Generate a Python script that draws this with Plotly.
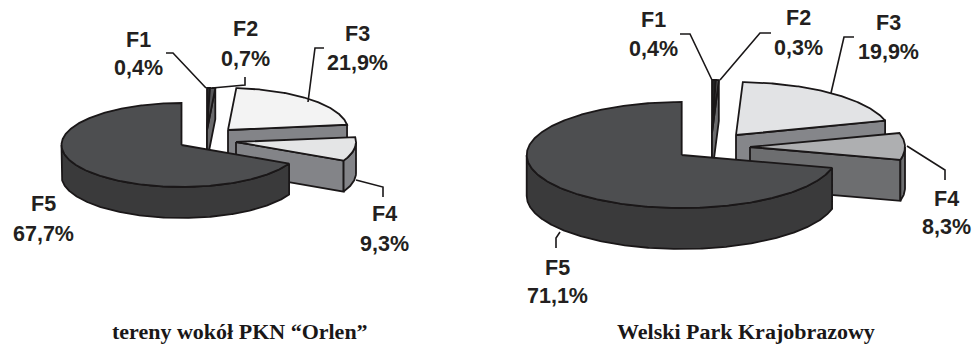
import numpy as np
import plotly.graph_objects as go

# ---------- data ----------
categories = ["F1", "F2", "F3", "F4", "F5"]
orlen_values = [0.4, 0.7, 21.9, 9.3, 67.7]
welski_values = [0.4, 0.3, 19.9, 8.3, 71.1]
orlen_title = "tereny wokół PKN “Orlen”"
welski_title = "Welski Park Krajobrazowy"

# ---------- layout / style (pixel space) ----------
W, H = 973, 345
DRAW_ORDER = [2, 0, 1, 3, 4]
INK = "#1a1718"
FONT = "Liberation Sans, Arial, sans-serif"
SERIF = "Liberation Serif, Times New Roman, serif"

PIES = [
    dict(values=orlen_values, title=orlen_title, title_xy=(240, 331),
         rx=120, ry=42, depth=31,
         apex=[(207, 130), (207, 130), (228, 130), (236, 142), (181.5, 145)],
         top=["#2b2b2c", "#58585a", "#f3f3f3", "#e4e5e6", "#4d4e50"],
         side=["#2b2b2c", "#6a6a6c", "#838488", "#838488", "#3a3a3b"],
         labels=[(138, 40, 68), (245, 29, 59), (357, 34, 63), (384, 214, 244), (43, 204, 234)],
         leaders=[[(166, 53), (173, 53), (206, 88)],
                  [(245, 77), (245, 85), (212, 88)],
                  [(324, 48), (315, 48), (308, 102)],
                  [(356, 180), (383, 187), (383, 197)]]),
    dict(values=welski_values, title=welski_title, title_xy=(746, 331),
         rx=155, ry=53, depth=41,
         apex=[(712, 133), (712, 133), (736, 135), (750, 147), (681.7, 155)],
         top=["#232324", "#58585a", "#e2e3e5", "#aeafb1", "#4d4e50"],
         side=["#232324", "#6a6a6c", "#85868a", "#6d6e70", "#3a3a3b"],
         labels=[(653, 20, 49), (798, 18, 48), (888, 23, 52), (946, 199, 227), (557, 268, 296)],
         leaders=[[(680, 34), (690, 34), (712, 80)],
                  [(771, 33), (760, 33), (720, 80)],
                  [(854, 37), (844, 37), (831, 93)],
                  [(907, 146), (945, 170), (945, 180)],
                  [(560, 232), (556, 238), (556, 248)]]),
]


def rim(apex, rx, ry, a, b):
    """Points on the slice rim between clockwise-from-north angles a and b (degrees)."""
    t = np.radians(np.linspace(a, b, max(int(abs(b - a) * 2), 2)))
    return apex[0] + rx * np.sin(t), apex[1] - ry * np.cos(t)


fig = go.Figure()


def poly(x, y, color, name):
    fig.add_trace(go.Scatter(
        x=list(x), y=list(y), mode="lines", fill="toself", fillcolor=color,
        line=dict(color=INK, width=1.8), name=name, hoverinfo="name", showlegend=False))


annotations = []
for pie in PIES:
    shares = np.array(pie["values"], dtype=float)
    ends = np.cumsum(shares) / shares.sum() * 360
    starts = np.concatenate(([0], ends[:-1]))
    rx, ry, d = pie["rx"], pie["ry"], pie["depth"]

    for i in DRAW_ORDER:
        a0, a1, ax = starts[i], ends[i], pie["apex"][i]
        name = f"{categories[i]} {pie['values'][i]}%"
        # cut face at the clockwise end of the slice
        if np.sin(np.radians(a1)) > 1e-6:
            ex, ey = rim(ax, rx, ry, a1, a1)
            poly([ax[0], ex[0], ex[0], ax[0], ax[0]],
                 [ax[1], ey[0], ey[0] + d, ax[1] + d, ax[1]], pie["side"][i], name)
        # outer wall, only the part that faces the viewer
        lo, hi = max(a0, 90), min(a1, 270)
        if hi > lo:
            ox, oy = rim(ax, rx, ry, lo, hi)
            poly(np.r_[ox, ox[::-1], ox[0]], np.r_[oy, oy[::-1] + d, oy[0]], pie["side"][i], name)
        # top surface
        tx, ty = rim(ax, rx, ry, a0, a1)
        poly(np.r_[ax[0], tx, ax[0]], np.r_[ax[1], ty, ax[1]], pie["top"][i], name)

    for leader in pie["leaders"]:
        fig.add_trace(go.Scatter(
            x=[p[0] for p in leader], y=[p[1] for p in leader], mode="lines",
            line=dict(color=INK, width=1.6), hoverinfo="skip", showlegend=False))

    for cat, val, (lx, y1, y2) in zip(categories, pie["values"], pie["labels"]):
        for txt, yy in ((cat, y1), (f"{val:.1f}%".replace(".", ","), y2)):
            annotations.append(dict(
                x=lx, y=yy, text=f"<b>{txt}</b>", showarrow=False,
                font=dict(family=FONT, size=21.5, color="#231f20")))

    annotations.append(dict(
        x=pie["title_xy"][0], y=pie["title_xy"][1], text=f"<b>{pie['title']}</b>",
        showarrow=False, font=dict(family=SERIF, size=22, color="#1a1718")))

fig.update_layout(
    width=W, height=H, margin=dict(l=0, r=0, t=0, b=0),
    paper_bgcolor="white", plot_bgcolor="white", showlegend=False,
    xaxis=dict(range=[0, W], visible=False, fixedrange=True),
    yaxis=dict(range=[H, 0], visible=False, fixedrange=True),
    annotations=annotations,
)
fig.write_html("out.html", config={"displayModeBar": False},
               post_script="document.body.style.margin='0';document.documentElement.style.overflow='hidden';")
